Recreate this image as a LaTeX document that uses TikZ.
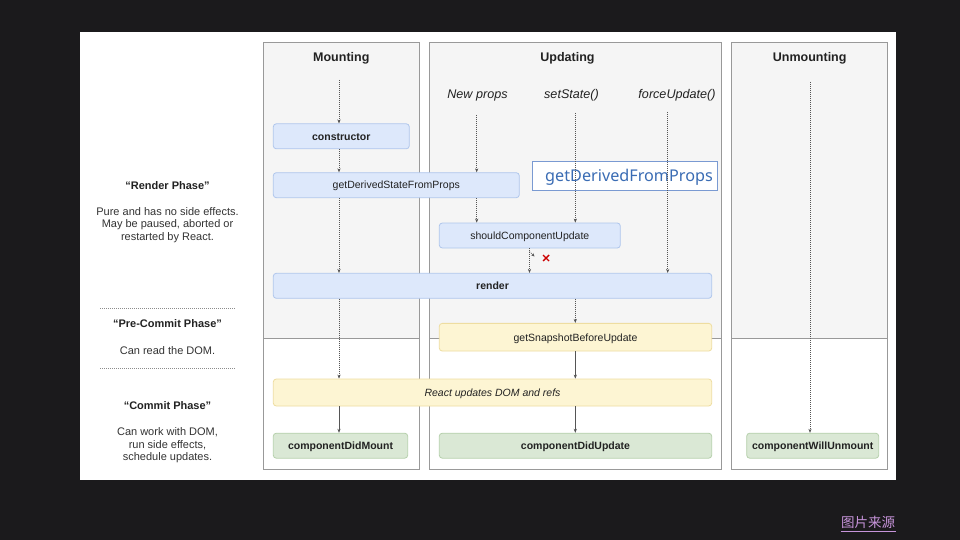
\documentclass[tikz,border=0pt]{standalone}
\usepackage{fontspec}
\setmainfont{Liberation Sans}
\newfontfamily\cjkfont{Noto Sans CJK SC}
\newfontfamily\notofont{Noto Sans}
\usetikzlibrary{arrows.meta,calc}
\definecolor{bgdark}{HTML}{1B1A1C}
\definecolor{colfill}{HTML}{F5F5F5}
\definecolor{colline}{HTML}{999999}
\definecolor{bluefill}{HTML}{DDE8FB}
\definecolor{blueline}{HTML}{AFC6EC}
\definecolor{yelfill}{HTML}{FDF5D3}
\definecolor{yelline}{HTML}{EEDDA0}
\definecolor{grnfill}{HTML}{DAE8D5}
\definecolor{grnline}{HTML}{B6D0AC}
\definecolor{txt}{HTML}{222222}
\definecolor{arrowc}{HTML}{555555}
\definecolor{ovblue}{HTML}{3A6CB4}
\definecolor{ovline}{HTML}{7A9AD2}
\definecolor{linkc}{HTML}{C794DA}
\tikzset{
  boxbase/.style={rounded corners=3pt, inner sep=0, minimum height=25pt, line width=0.8pt, text=txt, text height=7.6pt, text depth=0pt, font=\fontsize{10.5}{12}\selectfont},
  bluebox/.style={boxbase, draw=blueline, fill=bluefill},
  yelbox/.style={boxbase, draw=yelline, fill=yelfill},
  grnbox/.style={boxbase, draw=grnline, fill=grnfill},
  hdr/.style={font=\bfseries\fontsize{12.5}{14}\selectfont, text=txt, inner sep=0},
  trig/.style={font=\itshape\fontsize{12.6}{14}\selectfont, text=txt, inner sep=0},
  side/.style={font=\fontsize{11}{13}\selectfont, text=black!80, inner sep=0, align=center},
  sidehdr/.style={font=\bfseries\fontsize{11}{13}\selectfont, text=txt, inner sep=0},
  dflow/.style={draw=arrowc, line width=0.55pt, dash pattern=on 1pt off 1pt, -{Stealth[length=4pt,width=3.2pt]}},
  sflow/.style={draw=arrowc, line width=0.6pt, -{Stealth[length=4pt,width=3.2pt]}},
  sep/.style={draw=black!45, line width=0.5pt, dash pattern=on 1pt off 1pt},
}
\begin{document}
\begin{tikzpicture}[x=1pt,y=-1pt]
\useasboundingbox (0,0) rectangle (960,540);
\fill[bgdark] (0,0) rectangle (960,540);
\fill[white] (80,32) rectangle (896,480);
% columns
\foreach \a/\b in {263.3/419.3, 429.3/721.7, 731.7/887.7} {
  \fill[colfill] (\a,42.3) rectangle (\b,338.3);
  \draw[colline, line width=0.8pt] (\a,42.3) rectangle (\b,469.5);
  \draw[colline, line width=0.8pt] (\a,338.3) -- (\b,338.3);
}
% headers
\node[hdr] (hmount) at (341.3,57.8) {Mounting};
\node[hdr] (hupd) at (567.5,57.8) {Updating};
\node[hdr] (hunm) at (809.7,57.8) {Unmounting};
\node[trig] (tnp) at (477.5,95.5) {New props};
\node[trig] (tss) at (571.5,95.5) {setState()};
\node[trig] (tfu) at (677,95.5) {forceUpdate()};
% boxes
\node[bluebox, minimum width=136pt, font=\bfseries\fontsize{10.5}{12}\selectfont] (cons) at (341.3,136.3) {constructor};
\node[bluebox, minimum width=246pt] (gdsfp) at (396.3,185.2) {getDerivedStateFromProps};
\node[bluebox, minimum width=181pt] (scu) at (529.8,235.5) {shouldComponentUpdate};
\node[bluebox, minimum width=438.4pt, font=\bfseries\fontsize{10.5}{12}\selectfont] (render) at (492.5,285.8) {render};
\node[yelbox, minimum width=272.4pt, minimum height=27.7pt] (gsbu) at (575.5,337.2) {getSnapshotBeforeUpdate};
\node[yelbox, minimum width=438.4pt, minimum height=27pt, font=\itshape\fontsize{10.5}{12}\selectfont] (rud) at (492.5,392.5) {React updates DOM and refs};
\node[grnbox, minimum width=134.4pt, font=\bfseries\fontsize{10.5}{12}\selectfont] (cdm) at (340.5,445.7) {componentDidMount};
\node[grnbox, minimum width=272.4pt, font=\bfseries\fontsize{10.5}{12}\selectfont] (cdu) at (575.5,445.7) {componentDidUpdate};
\node[grnbox, minimum width=132pt, font=\bfseries\fontsize{10.5}{12}\selectfont] (cwu) at (812.7,445.7) {componentWillUnmount};
% overlay label
\node[draw=ovline, fill=white, line width=0.7pt, minimum width=184.6pt, minimum height=29.7pt, inner sep=0, text=ovblue, text height=11.5pt, text depth=0pt, font=\notofont\fontsize{16.2}{18}\selectfont] (ov) at (625,175.8) {\hspace{8pt}getDerivedFromProps};
% coordinates for arrow starts
\coordinate (mstart) at (339,80);
\coordinate (npstart) at (476.7,115);
\coordinate (ssstart) at (575.3,113);
\coordinate (fustart) at (667.7,112);
\coordinate (ustart) at (810,82);
\coordinate (fstart) at (529.5,251.5);
\coordinate (fend) at (534.5,256.5);
\coordinate (xmark) at (546,258);
% mounting flow
\draw[dflow] (mstart) -- (mstart |- cons.north);
\draw[dflow] (mstart |- cons.south) -- (mstart |- gdsfp.north);
\draw[dflow] (mstart |- gdsfp.south) -- (mstart |- render.north);
\draw[dflow] (mstart |- render.south) -- (mstart |- rud.north);
\draw[sflow] (mstart |- rud.south) -- (mstart |- cdm.north);
% updating flow
\draw[dflow] (npstart) -- (npstart |- gdsfp.north);
\draw[dflow] (npstart |- gdsfp.south) -- (npstart |- scu.north);
\draw[dflow] (ssstart) -- (ssstart |- scu.north);
\draw[dflow] (fustart) -- (fustart |- render.north);
\draw[dflow] (fstart |- scu.south) -- (fstart |- render.north);
\draw[draw=arrowc, line width=0.55pt, dash pattern=on 1pt off 1pt, -{Stealth[length=3.5pt,width=3pt]}] (fstart) -- (fend);
\draw[red!80!black, line width=1.4pt] ($(xmark)+(-3,-3)$) -- ($(xmark)+(3,3)$) ($(xmark)+(-3,3)$) -- ($(xmark)+(3,-3)$);
\draw[dflow] (ssstart |- render.south) -- (ssstart |- gsbu.north);
\draw[sflow] (ssstart |- gsbu.south) -- (ssstart |- rud.north);
\draw[sflow] (ssstart |- rud.south) -- (ssstart |- cdu.north);
% unmounting flow
\draw[dflow] (ustart) -- (ustart |- cwu.north);
% left side
\node[sidehdr] (rph) at (167.5,185.7) {“Render Phase”};
\node[side] (rpt1) at (167.5,211.7) {Pure and has no side effects.};
\node[side] (rpt2) at (167.5,224.5) {May be paused, aborted or};
\node[side] (rpt3) at (167.5,237.3) {restarted by React.};
\draw[sep] (100,308.3) -- (234.3,308.3);
\node[sidehdr] (pcph) at (167.5,324) {“Pre-Commit Phase”};
\node[side] (pct) at (167.5,350.7) {Can read the DOM.};
\draw[sep] (100,368.3) -- (234.3,368.3);
\node[sidehdr] (cph) at (167.5,405.7) {“Commit Phase”};
\node[side] (cpt1) at (167.5,432.3) {Can work with DOM,};
\node[side] (cpt2) at (167.5,445.2) {run side effects,};
\node[side] (cpt3) at (167.5,458) {schedule updates.};
% source link
\node[inner sep=0, text=linkc, font=\cjkfont\fontsize{13.5}{15}\selectfont] (src) at (868,522) {图片来源};
\draw[linkc, line width=0.7pt] (840.7,531.3) -- (895.7,531.3);
\end{tikzpicture}
\end{document}
